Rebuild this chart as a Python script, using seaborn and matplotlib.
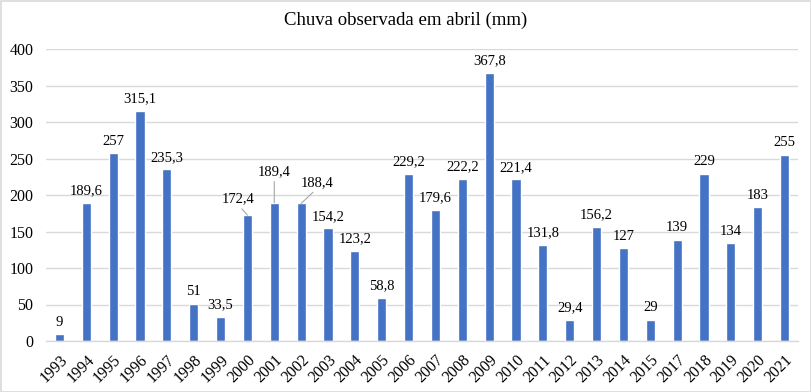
import matplotlib
matplotlib.use("Agg")
import matplotlib.pyplot as plt
import seaborn as sns
import pandas as pd
from matplotlib.patches import Rectangle

years = ["1993", "1994", "1995", "1996", "1997", "1998", "1999", "2000", "2001",
         "2002", "2003", "2004", "2005", "2006", "2007", "2008", "2009", "2010",
         "2011", "2012", "2013", "2014", "2015", "2017", "2018", "2019", "2020", "2021"]
rain = [9, 189.6, 257, 315.1, 235.3, 51, 33.5, 172.4, 189.4,
        188.4, 154.2, 123.2, 58.8, 229.2, 179.6, 222.2, 367.8, 221.4,
        131.8, 29.4, 156.2, 127, 29, 139, 229, 134, 183, 255]
yticks = [0, 50, 100, 150, 200, 250, 300, 350, 400]
title = "Chuva observada em abril (mm)"

df = pd.DataFrame({"ano": years, "chuva": rain})

sns.set_theme(style="white")
plt.rcParams["font.family"] = ["Liberation Serif", "DejaVu Serif"]

fig = plt.figure(figsize=(8.12, 3.92), dpi=100)
ax = fig.add_axes([46 / 812, 1 - 341 / 392, 752 / 812, 292 / 392])

sns.barplot(data=df, x="ano", y="chuva", color="#4472C4", saturation=1,
            width=0.34, ax=ax, zorder=3)

ax.set_ylim(0, 400)
ax.set_xlim(-0.5, len(years) - 0.5)
ax.set_yticks(yticks)
ax.set_yticklabels([str(t) for t in yticks], fontsize=11.5, color="black")
ax.set_xticks(range(len(years)))
ax.set_xticklabels(years, rotation=45, ha="right", rotation_mode="anchor",
                   fontsize=11.5, color="black")
ax.tick_params(axis="both", length=0)
ax.tick_params(axis="x", pad=8)
ax.tick_params(axis="y", pad=9)
ax.set_xlabel("")
ax.set_ylabel("")
ax.grid(axis="y", color="#d9d9d9", linewidth=1, zorder=0)
for s in ["top", "right", "left"]:
    ax.spines[s].set_visible(False)
ax.spines["bottom"].set_color("#d9d9d9")
ax.spines["bottom"].set_linewidth(1)
ax.spines["bottom"].set_zorder(4)

# data labels (special offsets with leader lines for crowded ones)
special = {"2000": (-9, 16), "2001": (0, 31), "2002": (16, 21)}
for i, (yr, v) in enumerate(zip(years, rain)):
    lab = f"{v:g}".replace(".", ",")
    if yr in special:
        dx, dy = special[yr]
        ax.annotate(lab, xy=(i, v), xytext=(dx, dy), textcoords="offset pixels",
                    ha="center", va="center", fontsize=10.5, color="black",
                    arrowprops=dict(arrowstyle="-", color="#a6a6a6", lw=0.8,
                                    shrinkA=0, shrinkB=0, relpos=(0.5, 0.05)))
    else:
        ax.annotate(lab, xy=(i, v), xytext=(0, 12), textcoords="offset pixels",
                    ha="center", va="center", fontsize=10.5, color="black")

fig.text(0.5, 1 - 20 / 392, title, ha="center", va="center", fontsize=13.5,
         color="black")

fig.patches.append(Rectangle((0.5 / 812, 0.5 / 392), 1 - 1 / 812, 1 - 1 / 392,
                             transform=fig.transFigure, fill=False,
                             edgecolor="#d9d9d9", linewidth=1.2))

fig.savefig("out.png", dpi=100)
